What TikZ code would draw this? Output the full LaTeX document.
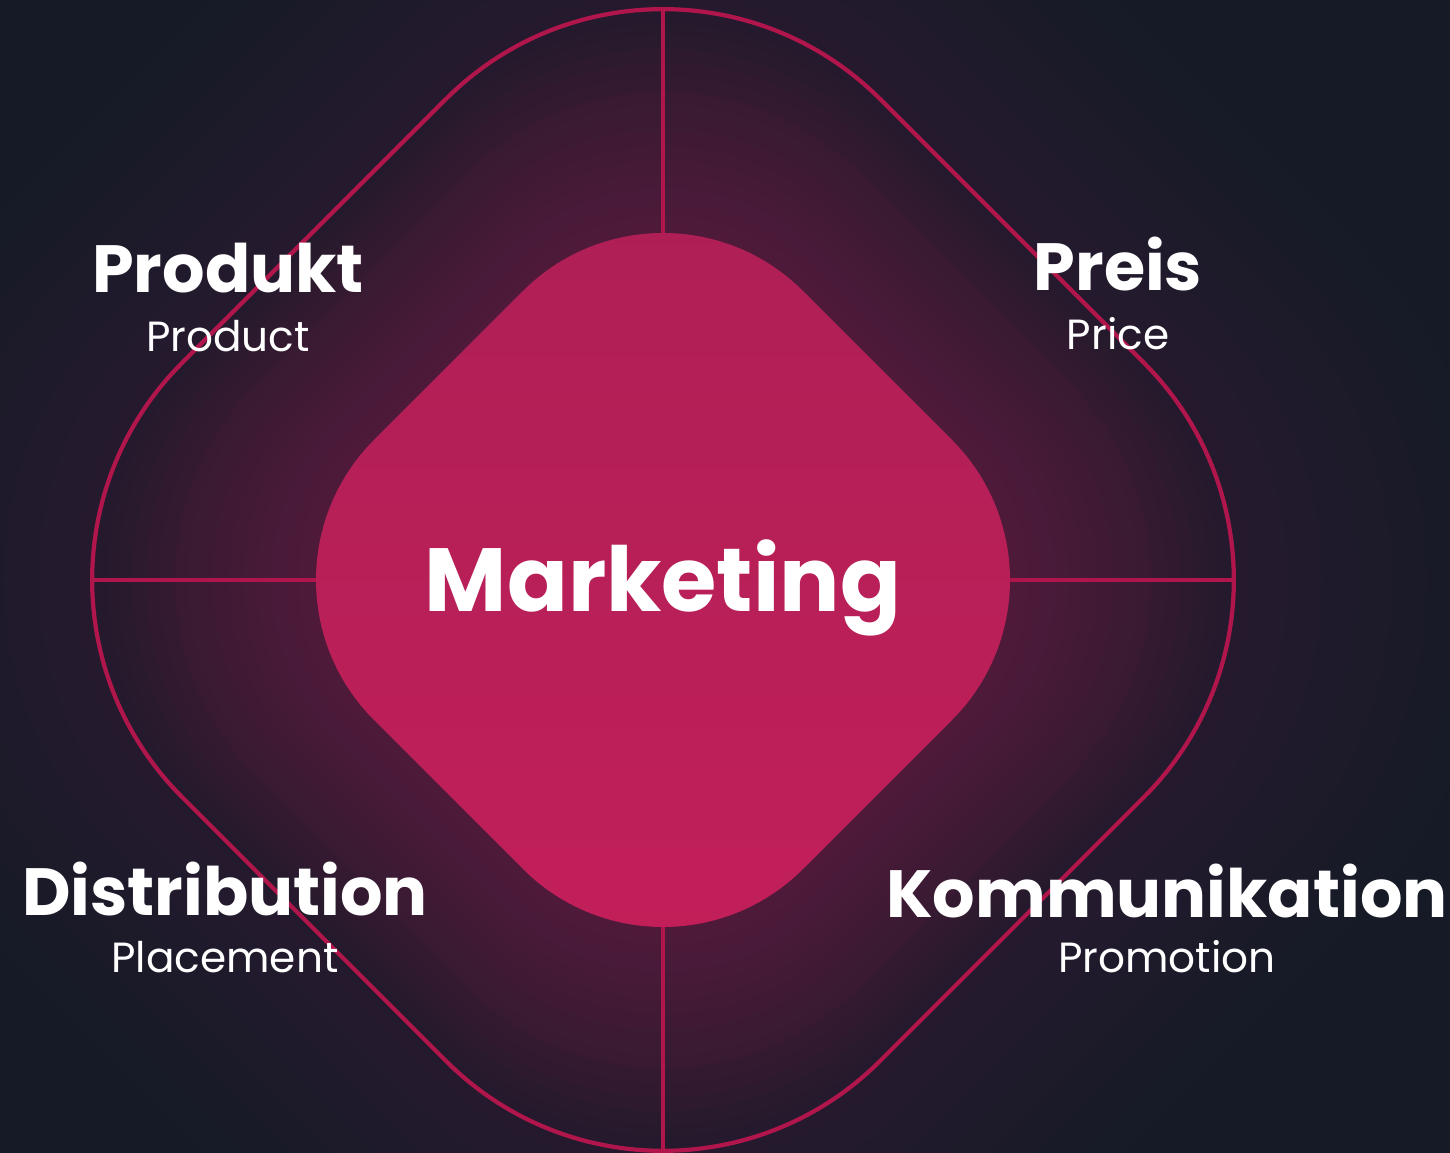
\documentclass[tikz,border=0pt]{standalone}
\usepackage{fontspec}
\setmainfont{Poppins}
\usetikzlibrary{positioning}

\definecolor{bgdark}{HTML}{151A26}
\definecolor{mkline}{HTML}{B0164B}
\definecolor{mkpink}{HTML}{C41F5A}
\definecolor{mkpinkdark}{HTML}{AD1F55}
\definecolor{mkglow}{HTML}{A81D5D}
\definecolor{mkhaze}{HTML}{592646}

\begin{document}
\begin{tikzpicture}[
    outline/.style={draw=mkline, line width=1.2pt},
    spoke/.style={draw=mkline, line width=1.2pt},
    hazelayer/.style={fill=mkhaze, fill opacity=0.04},
    glowlayer/.style={fill=mkglow, fill opacity=0.027},
    core/.style={text=white, anchor=base, inner sep=0pt, font=\fontsize{25.5}{28}\selectfont\bfseries},
    title/.style={text=white, anchor=base, inner sep=0pt, font=\fontsize{19}{22}\selectfont\bfseries},
    subtitle/.style={text=white, anchor=base, inner sep=0pt, font=\fontsize{12}{14}\selectfont}
  ]

  \useasboundingbox (-6.63,-5.73) rectangle (7.87,5.80);

  % Background with a soft glow around the centre
  \fill[bgdark] (-6.63,-5.73) rectangle (7.87,5.80);
  \foreach \s in {1.1,1.2,...,2.45} {
    \pgfmathsetmacro\rc{1.98*\s}
    \pgfmathsetmacro\dc{4.29*\s}
    \fill[hazelayer, rounded corners=\rc cm]
      ({\dc/2},{\dc/2}) -- (\dc,0) -- (0,-\dc) -- (-\dc,0) -- (0,\dc) -- ({\dc/2},{\dc/2});
  }
  \foreach \s in {1.01,1.05,...,1.6} {
    \pgfmathsetmacro\rc{1.98*\s}
    \pgfmathsetmacro\dc{4.29*\s}
    \fill[glowlayer, rounded corners=\rc cm]
      ({\dc/2},{\dc/2}) -- (\dc,0) -- (0,-\dc) -- (-\dc,0) -- (0,\dc) -- ({\dc/2},{\dc/2});
  }

  % Outer rounded diamond
  \draw[outline, rounded corners=3.07cm] (3.49,3.49) -- (6.98,0) -- (0,-6.98) -- (-6.98,0) -- (0,6.98) -- (3.49,3.49);

  % Spoke end points
  \coordinate (otop) at (0,5.71);
  \coordinate (itop) at (0,3.47);
  \coordinate (oleft) at (-5.71,0);
  \coordinate (ileft) at (-3.47,0);
  \coordinate (oright) at (5.71,0);
  \coordinate (iright) at (3.47,0);
  \coordinate (obottom) at (0,-5.71);
  \coordinate (ibottom) at (0,-3.47);

  \draw[spoke] (otop) -- (itop);
  \draw[spoke] (oleft) -- (ileft);
  \draw[spoke] (oright) -- (iright);
  \draw[spoke] (obottom) -- (ibottom);

  % Inner filled diamond
  \shade[top color=mkpinkdark, middle color=mkpink, bottom color=mkpink, rounded corners=1.98cm]
    (2.145,2.145) -- (4.29,0) -- (0,-4.29) -- (-4.29,0) -- (0,4.29) -- (2.145,2.145);

  \node[core] (marketing) at (0,-0.32) {Marketing};

  % The four P
  \node[title] (produkt) at (-4.35,2.87) {Produkt};
  \node[subtitle, below=0.59cm of produkt.base, anchor=base] (product) {Product};

  \node[title] (preis) at (4.55,2.89) {Preis};
  \node[subtitle, below=0.59cm of preis.base, anchor=base] (price) {Price};

  \node[title] (distribution) at (-4.38,-3.36) {Distribution};
  \node[subtitle, below=0.57cm of distribution.base, anchor=base] (placement) {Placement};

  \node[title] (kommunikation) at (5.04,-3.38) {Kommunikation};
  \node[subtitle, below=0.55cm of kommunikation.base, anchor=base] (promotion) {Promotion};

\end{tikzpicture}
\end{document}
